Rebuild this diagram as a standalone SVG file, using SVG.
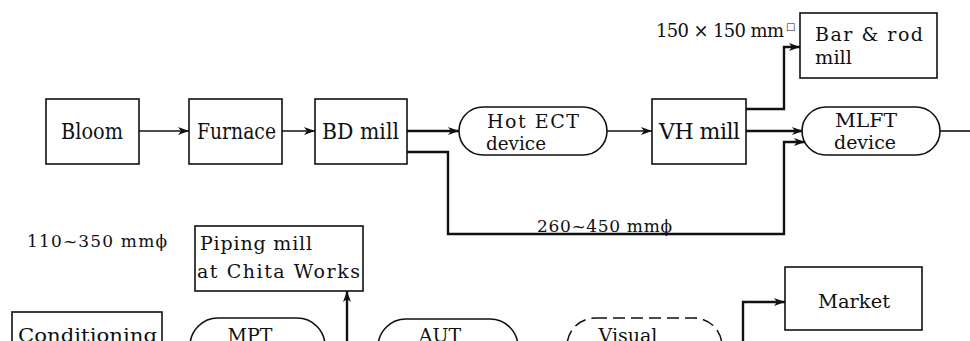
<svg xmlns="http://www.w3.org/2000/svg" width="970" height="341" viewBox="0 0 970 341">
<defs>
<marker id="ah" markerWidth="12" markerHeight="10" refX="11" refY="5" orient="auto" markerUnits="userSpaceOnUse">
<path d="M0,1 L11,5 L0,9 L3,5 z" fill="#111"/>
</marker>
</defs>
<style>
.box{fill:#fff;stroke:#111;stroke-width:1.6}
.dash{fill:#fff;stroke:#111;stroke-width:1.6;stroke-dasharray:12 6}
text{font-family:'DejaVu Serif','Liberation Serif',serif;fill:#111}
.s23{font-size:22px}
.s21{font-size:19px}
.s18{font-size:17px}
.c{fill:none;stroke:#111;stroke-width:1.6}
.thick{stroke-width:2.4}
</style>
<rect width="970" height="341" fill="#fff"/>
<g id="connectors">
<path class="c" d="M139,131 H189" marker-end="url(#ah)"/>
<path class="c" d="M282,131 H315" marker-end="url(#ah)"/>
<path class="c thick" d="M407,131 H459" marker-end="url(#ah)"/>
<path class="c thick" d="M407,152 H448 V234 H784 V142 H805" marker-end="url(#ah)"/>
<path class="c" d="M607,131 H652" marker-end="url(#ah)"/>
<path class="c thick" d="M746,109 H784 V47 H800" marker-end="url(#ah)"/>
<path class="c thick" d="M746,131 H803" marker-end="url(#ah)"/>
<path class="c" d="M940,131 H970"/>
<path class="c thick" d="M347,341 V291" marker-end="url(#ah)"/>
<path class="c thick" d="M743,341 V302 H785" marker-end="url(#ah)"/>
</g>
<g id="bloom">
<rect class="box" x="46" y="99" width="93" height="65"/>
<text class="s23" x="61" y="139" textLength="62" lengthAdjust="spacingAndGlyphs">Bloom</text>
</g>
<g id="furnace">
<rect class="box" x="189" y="99" width="93" height="65"/>
<text class="s23" x="197" y="139" textLength="79" lengthAdjust="spacingAndGlyphs">Furnace</text>
</g>
<g id="bd-mill">
<rect class="box" x="315" y="99" width="92" height="65"/>
<text class="s23" x="322" y="139" textLength="77" lengthAdjust="spacingAndGlyphs">BD mill</text>
</g>
<g id="hot-ect">
<rect class="box" x="459" y="107" width="148" height="48" rx="24"/>
<text class="s21" x="487" y="128" textLength="92" lengthAdjust="spacing">Hot ECT</text>
<text class="s21" x="486" y="150" textLength="60" lengthAdjust="spacingAndGlyphs">device</text>
</g>
<g id="vh-mill">
<rect class="box" x="652" y="99" width="94" height="65"/>
<text class="s23" x="659" y="139" textLength="81" lengthAdjust="spacing">VH mill</text>
</g>
<g id="bar-rod-mill">
<rect class="box" x="800" y="13" width="137" height="65"/>
<text class="s21" x="815" y="41" textLength="108" lengthAdjust="spacing">Bar &amp; rod</text>
<text class="s21" x="815" y="64" textLength="37" lengthAdjust="spacingAndGlyphs">mill</text>
</g>
<g id="mlft">
<rect class="box" x="802" y="107" width="138" height="48" rx="24"/>
<text class="s21" x="835" y="127" textLength="62" lengthAdjust="spacingAndGlyphs">MLFT</text>
<text class="s21" x="834" y="149" textLength="62" lengthAdjust="spacingAndGlyphs">device</text>
</g>
<g id="piping-mill">
<rect class="box" x="195" y="226" width="168" height="65"/>
<text class="s21" x="200" y="250" textLength="112" lengthAdjust="spacing">Piping mill</text>
<text class="s21" x="197" y="278" textLength="163" lengthAdjust="spacing">at Chita Works</text>
</g>
<g id="market">
<rect class="box" x="785" y="267" width="137" height="63"/>
<text class="s21" x="818" y="308" textLength="72" lengthAdjust="spacingAndGlyphs">Market</text>
</g>
<g id="conditioning">
<rect class="box" x="12" y="312" width="150" height="60"/>
<text class="s21" x="18" y="342" textLength="139" lengthAdjust="spacingAndGlyphs">Conditioning</text>
</g>
<g id="mpt">
<rect class="box" x="190" y="318" width="135" height="60" rx="28"/>
<text class="s21" x="250" y="342" text-anchor="middle">MPT</text>
</g>
<g id="aut">
<rect class="box" x="378" y="319" width="140" height="60" rx="28"/>
<text class="s21" x="440" y="342" text-anchor="middle">AUT</text>
</g>
<g id="visual">
<rect class="dash" x="567" y="318" width="155" height="60" rx="28"/>
<text class="s21" x="628" y="342" text-anchor="middle">Visual</text>
</g>
<g id="labels">
<text style="font-size:18px" x="656" y="37" textLength="128" lengthAdjust="spacing">150 × 150 mm</text>
<text style="font-size:10px" x="786" y="30">□</text>
<text class="s18" x="537" y="232" textLength="135" lengthAdjust="spacing">260~450 mmϕ</text>
<text class="s18" x="27" y="247" textLength="140" lengthAdjust="spacing">110~350 mmϕ</text>
</g>
</svg>
